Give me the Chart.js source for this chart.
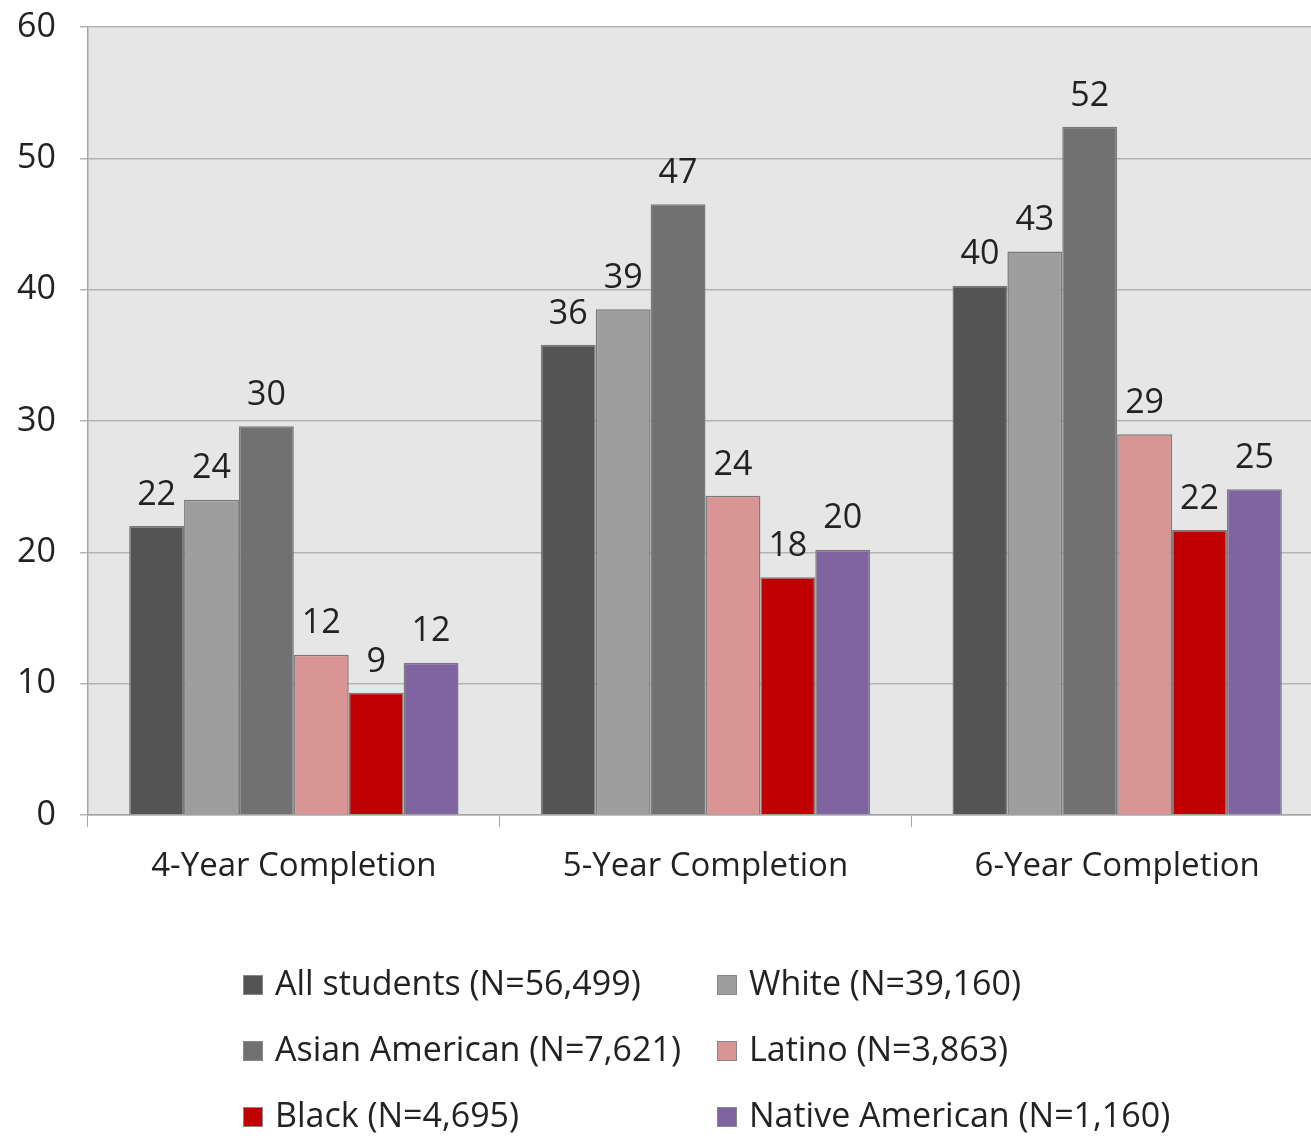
<!DOCTYPE html>
<html>
<head>
<meta charset="utf-8">
<script src="https://cdn.jsdelivr.net/npm/chart.js@4"></script>
<style>
  html, body { margin: 0; padding: 0; background: #fff; overflow: hidden; }
  #wrap { width: 1311px; height: 1136px; position: relative; overflow: hidden; }
</style>
</head>
<body>
<div id="wrap"><canvas id="chart" width="1323" height="1136"></canvas></div>
<script>
const categories = ['4-Year Completion', '5-Year Completion', '6-Year Completion'];
const seriesNames = [
  'All students (N=56,499)',
  'White (N=39,160)',
  'Asian American (N=7,621)',
  'Latino (N=3,863)',
  'Black (N=4,695)',
  'Native American (N=1,160)'
];
const allStudents = [22.0, 35.8, 40.3];
const white = [24.0, 38.5, 42.9];
const asianAmerican = [29.6, 46.5, 52.4];
const latino = [12.2, 24.3, 29.0];
const black = [9.3, 18.1, 21.7];
const nativeAmerican = [11.6, 20.2, 24.8];
const yTicks = [0, 10, 20, 30, 40, 50, 60];

const colors = ['#545454', '#9e9e9e', '#717171', '#d99594', '#c00000', '#8064a2'];
const seriesData = [allStudents, white, asianAmerican, latino, black, nativeAmerican];
const FONT = '"Open Sans", sans-serif';

// grey plot background
const plotBg = {
  id: 'plotBg',
  beforeDraw(chart) {
    const { ctx, chartArea: a } = chart;
    ctx.save();
    ctx.fillStyle = '#e6e6e6';
    ctx.fillRect(a.left, a.top, a.right - a.left, a.bottom - a.top);
    ctx.restore();
  }
};

// rounded value above each bar
const valueLabels = {
  id: 'valueLabels',
  afterDatasetsDraw(chart) {
    const ctx = chart.ctx;
    ctx.save();
    ctx.font = '34px ' + FONT;
    ctx.fillStyle = '#222';
    ctx.textAlign = 'center';
    ctx.textBaseline = 'bottom';
    chart.data.datasets.forEach((ds, i) => {
      chart.getDatasetMeta(i).data.forEach((bar, j) => {
        ctx.fillText(Math.round(ds.data[j]), bar.x, bar.y - 14);
      });
    });
    ctx.restore();
  }
};

// two-column legend under the chart
const gridLegend = {
  id: 'gridLegend',
  afterDraw(chart) {
    const ctx = chart.ctx;
    const colX = [243, 717];
    const rowY = [985, 1051, 1117];
    ctx.save();
    ctx.font = '34px ' + FONT;
    ctx.textBaseline = 'middle';
    ctx.textAlign = 'left';
    chart.data.datasets.forEach((ds, i) => {
      const x = colX[i % 2];
      const y = rowY[Math.floor(i / 2)];
      ctx.fillStyle = ds.backgroundColor;
      ctx.fillRect(x, y - 10, 20, 20);
      ctx.strokeStyle = '#888';
      ctx.lineWidth = 1;
      ctx.strokeRect(x + 0.5, y - 9.5, 19, 19);
      ctx.fillStyle = '#222';
      ctx.fillText(ds.label, x + 32, y);
    });
    ctx.restore();
  }
};

new Chart(document.getElementById('chart'), {
  type: 'bar',
  data: {
    labels: categories,
    datasets: seriesNames.map((name, i) => ({
      label: name,
      data: seriesData[i],
      backgroundColor: colors[i],
      borderColor: '#7a7a7a',
      borderWidth: 1.5,
      categoryPercentage: 0.8,
      barPercentage: 1.0
    }))
  },
  options: {
    responsive: false,
    animation: false,
    layout: { padding: 0 },
    plugins: {
      legend: { display: false },
      tooltip: { enabled: false }
    },
    scales: {
      x: {
        grid: { drawOnChartArea: false, color: '#a6a6a6', tickLength: 12, offset: true },
        border: { color: '#a6a6a6', width: 1.5 },
        ticks: { color: '#222', font: { family: FONT, size: 33 }, padding: 20 },
        afterFit(scale) { scale.height = 321; }
      },
      y: {
        min: 0,
        max: 60,
        afterBuildTicks(scale) { scale.ticks = yTicks.map(v => ({ value: v })); },
        grid: { color: '#b3b3b3', lineWidth: 1.5, tickLength: 8 },
        border: { color: '#a6a6a6', width: 1.5 },
        ticks: { color: '#222', font: { family: FONT, size: 34 }, padding: 24 },
        afterFit(scale) {
          scale.width = 88;
          scale.paddingTop = 27;
          scale.paddingBottom = 20;
        }
      }
    }
  },
  plugins: [plotBg, valueLabels, gridLegend]
});
</script>
</body>
</html>
